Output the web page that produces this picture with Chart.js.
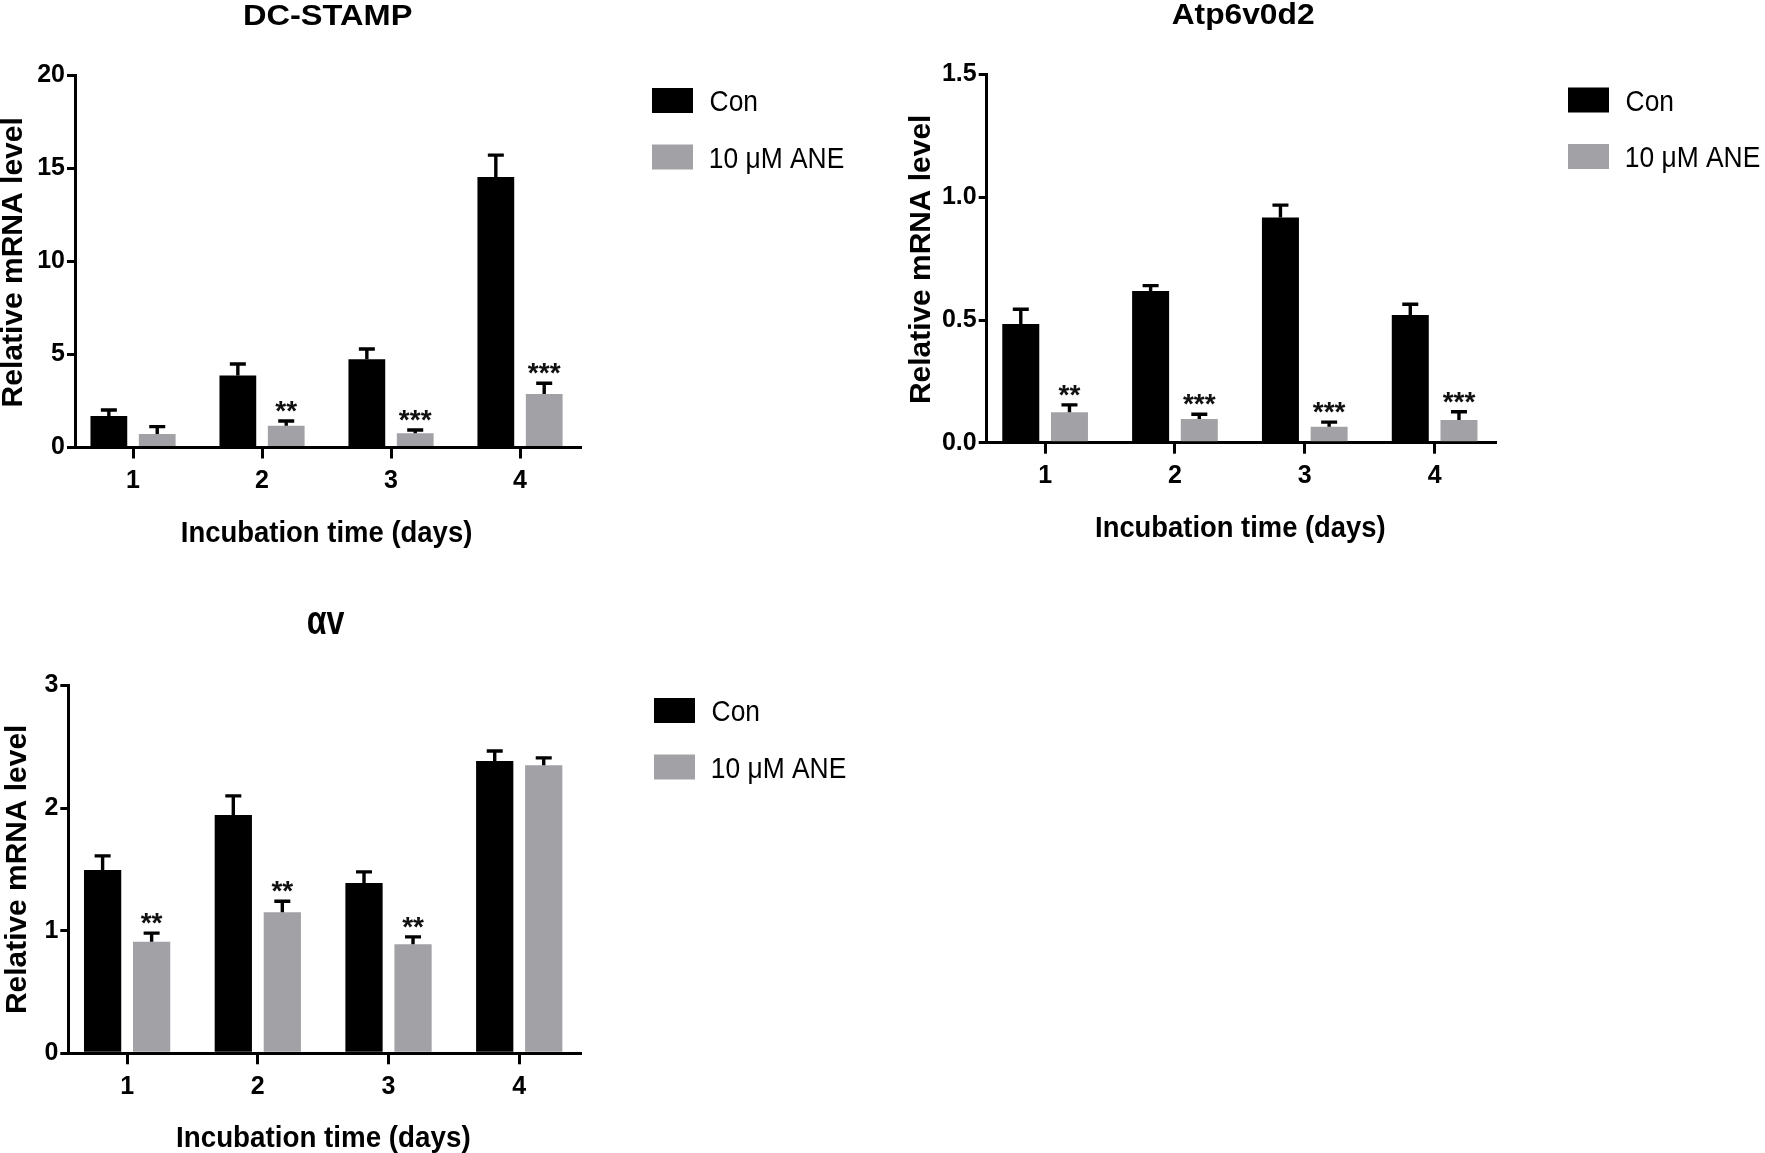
<!DOCTYPE html>
<html>
<head>
<meta charset="utf-8">
<script src="https://cdn.jsdelivr.net/npm/chart.js@4.4.1/dist/chart.umd.min.js"></script>
<style>
html, body { margin: 0; padding: 0; background: #fff; }
body { width: 1765px; height: 1153px; position: relative; overflow: hidden; }
canvas { position: absolute; left: 0; top: 0; }
</style>
</head>
<body>
<canvas id="c1" width="1765" height="1153"></canvas>
<canvas id="c2" width="1765" height="1153"></canvas>
<canvas id="c3" width="1765" height="1153"></canvas>
<script>
// ---------- data ----------
const days = [1, 2, 3, 4];
const seriesNames = ['Con', '10 μM ANE'];
const yTitle = 'Relative mRNA level';
const xTitle = 'Incubation time (days)';

const dcTitle = 'DC-STAMP';
const dcCon = [1.69, 3.86, 4.74, 14.52];
const dcConSem = [0.32, 0.62, 0.55, 1.18];
const dcAne = [0.72, 1.17, 0.76, 2.87];
const dcAneSem = [0.40, 0.25, 0.18, 0.58];
const dcStars = ['', '**', '***', '***'];
const dcTicks = [0, 5, 10, 15, 20];
const dcTickLabels = ['0', '5', '10', '15', '20'];

const atpTitle = 'Atp6v0d2';
const atpCon = [0.484, 0.618, 0.918, 0.52];
const atpConSem = [0.06, 0.022, 0.05, 0.044];
const atpAne = [0.124, 0.097, 0.065, 0.093];
const atpAneSem = [0.03, 0.019, 0.019, 0.033];
const atpStars = ['**', '***', '***', '***'];
const atpTicks = [0, 0.5, 1.0, 1.5];
const atpTickLabels = ['0.0', '0.5', '1.0', '1.5'];

const avTitle = 'αv';
const avCon = [1.495, 1.944, 1.39, 2.384];
const avConSem = [0.115, 0.156, 0.09, 0.082];
const avAne = [0.91, 1.15, 0.89, 2.35];
const avAneSem = [0.07, 0.09, 0.06, 0.06];
const avStars = ['**', '**', '**', ''];
const avTicks = [0, 1, 2, 3];
const avTickLabels = ['0', '1', '2', '3'];

// ---------- style ----------
const FONT = "'Liberation Sans', Arial, Helvetica, sans-serif";
const CON_COLOR = '#000000';
const ANE_COLOR = '#a2a2a6';
const W = 1765, H = 1153, YW = 60, XH = 60;

const panels = [
  { id: 'c1', title: dcTitle, con: dcCon, conSem: dcConSem, ane: dcAne, aneSem: dcAneSem,
    stars: dcStars, ticks: dcTicks, tickLabels: dcTickLabels,
    area: { l: 75, t: 75, r: 580, b: 447.5 },
    titleBox: { left: 244, base: 25, w: 168, size: 29 },
    yTitleBox: { bx: 22, cy: 262, len: 287 },
    xTitleBox: { left: 181.7, base: 541.7, w: 290 },
    legend: { left: 652, top: 88 } },
  { id: 'c2', title: atpTitle, con: atpCon, conSem: atpConSem, ane: atpAne, aneSem: atpAneSem,
    stars: atpStars, ticks: atpTicks, tickLabels: atpTickLabels,
    area: { l: 986.7, t: 74.6, r: 1495, b: 442.7 },
    titleBox: { left: 1171.7, base: 24, w: 141.6, size: 29 },
    yTitleBox: { bx: 930, cy: 259, len: 286 },
    xTitleBox: { left: 1096, base: 537, w: 289 },
    legend: { left: 1568, top: 87.5 } },
  { id: 'c3', title: avTitle, con: avCon, conSem: avConSem, ane: avAne, aneSem: avAneSem,
    stars: avStars, ticks: avTicks, tickLabels: avTickLabels,
    area: { l: 68.3, t: 685.5, r: 580, b: 1053.3 },
    titleBox: { left: 307.5, base: 634, w: 37.5, size: 40 },
    yTitleBox: { bx: 26, cy: 869, len: 286 },
    xTitleBox: { left: 177, base: 1147, w: 293 },
    legend: { left: 654, top: 698 } }
];

function fitText(ctx, text, left, base, font, width, sx) {
  ctx.save();
  ctx.font = font;
  ctx.textAlign = 'left';
  ctx.textBaseline = 'alphabetic';
  const m = ctx.measureText(text);
  const ink = m.actualBoundingBoxLeft + m.actualBoundingBoxRight;
  const s = width ? width / ink : (sx || 1);
  ctx.translate(left, base);
  ctx.scale(s, 1);
  ctx.fillStyle = '#000';
  ctx.fillText(text, m.actualBoundingBoxLeft, 0);
  ctx.restore();
}

function makeChart(p) {
  const decor = {
    id: 'decor' + p.id,
    afterDatasetsDraw(chart) {
      const ctx = chart.ctx;
      const ys = chart.scales.y;
      const sems = [p.conSem, p.aneSem];
      const means = [p.con, p.ane];
      ctx.save();
      ctx.strokeStyle = '#000';
      ctx.lineWidth = 3.4;
      ctx.lineCap = 'butt';
      for (let d = 0; d < 2; d++) {
        const meta = chart.getDatasetMeta(d);
        meta.data.forEach((bar, i) => {
          const yTop = ys.getPixelForValue(means[d][i] + sems[d][i]);
          ctx.beginPath();
          ctx.moveTo(bar.x, bar.y);
          ctx.lineTo(bar.x, yTop);
          ctx.moveTo(bar.x - 8, yTop);
          ctx.lineTo(bar.x + 8, yTop);
          ctx.stroke();
          if (d === 1 && p.stars[i]) {
            ctx.font = 'bold 28px ' + FONT;
            ctx.textAlign = 'center';
            ctx.textBaseline = 'alphabetic';
            const m = ctx.measureText(p.stars[i]);
            const cy = yTop - 14.5;
            const base = cy + (m.actualBoundingBoxAscent - m.actualBoundingBoxDescent) / 2;
            ctx.fillStyle = '#111';
            ctx.fillText(p.stars[i], bar.x, base);
          }
        });
      }
      ctx.restore();
    },
    afterDraw(chart) {
      const ctx = chart.ctx;
      // title
      fitText(ctx, p.title, p.titleBox.left, p.titleBox.base, 'bold ' + p.titleBox.size + 'px ' + FONT, p.titleBox.w);
      // x title
      fitText(ctx, xTitle, p.xTitleBox.left, p.xTitleBox.base, 'bold 29px ' + FONT, p.xTitleBox.w);
      // y title (rotated)
      ctx.save();
      ctx.translate(p.yTitleBox.bx, p.yTitleBox.cy);
      ctx.rotate(-Math.PI / 2);
      fitText(ctx, yTitle, -p.yTitleBox.len / 2, 0, 'bold 30px ' + FONT, p.yTitleBox.len);
      ctx.restore();
      // legend
      chart.data.datasets.forEach((ds, i) => {
        const top = p.legend.top + i * 56.5;
        ctx.fillStyle = ds.backgroundColor;
        ctx.fillRect(p.legend.left, top, 41, 25);
        fitText(ctx, ds.label, p.legend.left + 58.5, top + 23, '30px ' + FONT, null, 0.88);
      });
    }
  };

  return new Chart(document.getElementById(p.id), {
    type: 'bar',
    data: {
      datasets: [
        { label: seriesNames[0], data: days.map((d, i) => ({ x: d, y: p.con[i] })),
          backgroundColor: CON_COLOR, borderWidth: 0 },
        { label: seriesNames[1], data: days.map((d, i) => ({ x: d, y: p.ane[i] })),
          backgroundColor: ANE_COLOR, borderWidth: 0 }
      ]
    },
    options: {
      responsive: false,
      animation: false,
      events: [],
      categoryPercentage: 0.75,
      barPercentage: 0.76,
      layout: {
        padding: {
          left: p.area.l - YW,
          top: p.area.t,
          right: W - p.area.r,
          bottom: H - p.area.b - XH
        }
      },
      plugins: { legend: { display: false }, tooltip: { enabled: false }, title: { display: false } },
      scales: {
        x: {
          type: 'linear',
          offset: false,
          min: 0.55,
          max: 4.465,
          afterBuildTicks: (axis) => { axis.ticks = days.map(v => ({ value: v })); },
          afterFit: (s) => { s.height = XH; },
          grid: { display: true, offset: false, drawOnChartArea: false, drawTicks: true,
                  tickLength: 11, color: '#000', lineWidth: 3 },
          border: { display: true, color: '#000', width: 3 },
          ticks: { color: '#000', font: { family: FONT, size: 25, weight: 'bold' }, padding: 7.5,
                   maxRotation: 0, autoSkip: false, callback: (v) => String(v) }
        },
        y: {
          type: 'linear',
          min: p.ticks[0],
          max: p.ticks[p.ticks.length - 1],
          afterBuildTicks: (axis) => { axis.ticks = p.ticks.map(v => ({ value: v })); },
          afterFit: (s) => { s.width = YW; },
          grid: { display: true, drawOnChartArea: false, drawTicks: true,
                  tickLength: 8, color: '#000', lineWidth: 3 },
          border: { display: true, color: '#000', width: 3 },
          ticks: { color: '#000', font: { family: FONT, size: 25, weight: 'bold' }, padding: 2,
                   autoSkip: false, callback: (v, i) => p.tickLabels[i] }
        }
      }
    },
    plugins: [decor]
  });
}

panels.forEach(makeChart);
</script>
</body>
</html>
